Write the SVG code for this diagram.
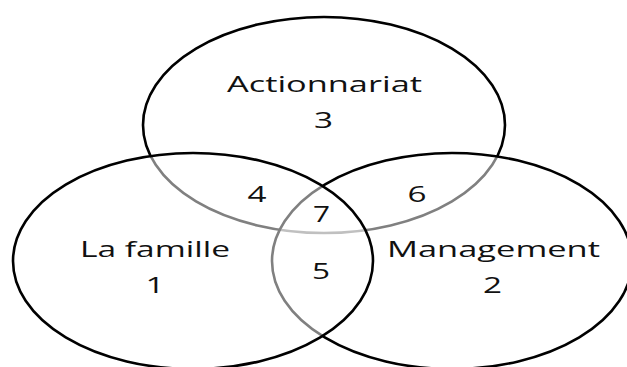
<svg xmlns="http://www.w3.org/2000/svg" width="627" height="367" viewBox="0 0 627 367">
  <style>
    .set { fill: #ffffff; fill-opacity: 0.5; stroke: #000000; stroke-width: 2.6; }
    .lbl { font-family: "Open Sans", "Noto Sans", sans-serif; font-size: 21px; fill: #111111; text-anchor: middle; }
  </style>
  <rect width="627" height="367" fill="#ffffff"/>

  <!-- Each circle carries a half-transparent white fill, so later circles fade the outlines beneath them -->
  <g id="actionnariat">
    <ellipse class="set" cx="324" cy="125" rx="181" ry="108"/>
    <text class="lbl" x="324.5" y="92" textLength="195" lengthAdjust="spacingAndGlyphs">Actionnariat</text>
    <text class="lbl" x="323.5" y="128" textLength="19" lengthAdjust="spacingAndGlyphs">3</text>
  </g>

  <g id="management">
    <ellipse class="set" cx="452" cy="261" rx="180" ry="108"/>
    <text class="lbl" x="493.5" y="257" textLength="213" lengthAdjust="spacingAndGlyphs">Management</text>
    <text class="lbl" x="492.5" y="293" textLength="19" lengthAdjust="spacingAndGlyphs">2</text>
  </g>

  <g id="famille">
    <ellipse class="set" cx="193" cy="261" rx="180" ry="108"/>
    <text class="lbl" x="155" y="257" textLength="150" lengthAdjust="spacingAndGlyphs">La famille</text>
    <text class="lbl" x="155" y="293" textLength="19" lengthAdjust="spacingAndGlyphs">1</text>
  </g>

  <!-- Overlap region numbers -->
  <g id="overlaps">
    <text class="lbl" x="257" y="202" textLength="19" lengthAdjust="spacingAndGlyphs">4</text>
    <text class="lbl" x="417" y="202" textLength="19" lengthAdjust="spacingAndGlyphs">6</text>
    <text class="lbl" x="321.5" y="222" textLength="17" lengthAdjust="spacingAndGlyphs">7</text>
    <text class="lbl" x="321" y="279" textLength="18" lengthAdjust="spacingAndGlyphs">5</text>
  </g>
</svg>
